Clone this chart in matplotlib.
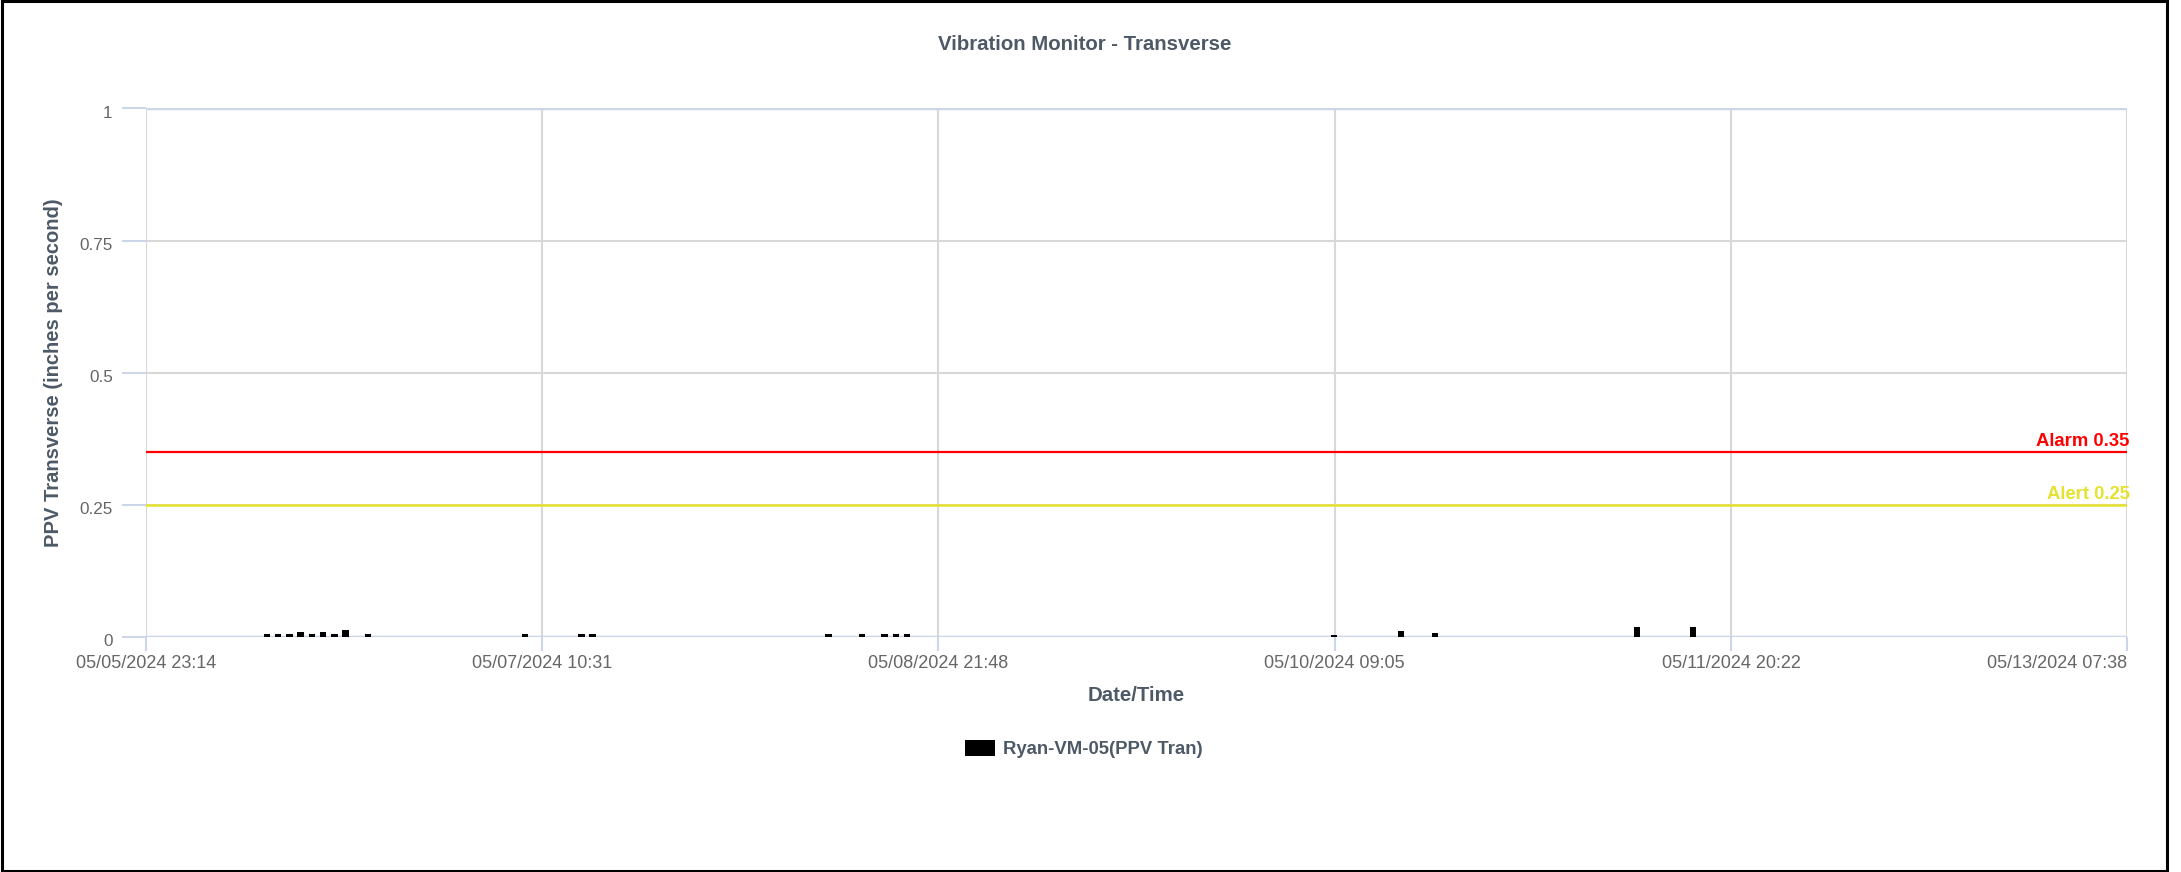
import numpy as np
import pandas as pd
import matplotlib
matplotlib.use("Agg")
import matplotlib.pyplot as plt
import matplotlib.dates as mdates
import matplotlib.transforms as mtransforms
from matplotlib.patches import Rectangle

plt.rcParams['font.family'] = ['Liberation Sans', 'DejaVu Sans']

# --- dados (PPV transversal, leituras horárias) ---
bar_times = [
    "2024-05-06 10:00", "2024-05-06 11:00", "2024-05-06 12:00", "2024-05-06 13:00",
    "2024-05-06 14:00", "2024-05-06 15:00", "2024-05-06 16:00", "2024-05-06 17:00",
    "2024-05-06 19:00",
    "2024-05-07 09:00", "2024-05-07 14:00", "2024-05-07 15:00",
    "2024-05-08 12:00", "2024-05-08 15:00", "2024-05-08 17:00", "2024-05-08 18:00",
    "2024-05-08 19:00",
    "2024-05-10 09:00", "2024-05-10 15:00", "2024-05-10 18:00",
    "2024-05-11 12:00", "2024-05-11 17:00",
]
bar_values = [
    0.005, 0.005, 0.005, 0.009, 0.005, 0.009, 0.005, 0.013,
    0.005,
    0.005, 0.005, 0.005,
    0.005, 0.005, 0.005, 0.005,
    0.005,
    0.004, 0.011, 0.008,
    0.018, 0.018,
]
tick_times = [
    "2024-05-05 23:14", "2024-05-07 10:31", "2024-05-08 21:48",
    "2024-05-10 09:05", "2024-05-11 20:22", "2024-05-13 07:38",
]
y_ticks = [0, 0.25, 0.5, 0.75, 1]
y_tick_labels = ["0", "0.25", "0.5", "0.75", "1"]
alarm_level = 0.35
alert_level = 0.25
series_name = "Ryan-VM-05(PPV Tran)"

W, H = 2181, 872
fig = plt.figure(figsize=(W / 100, H / 100), dpi=100)
ax = fig.add_axes([146 / W, 1 - 637 / H, (2127 - 146) / W, (637 - 108.5) / H])

t = pd.to_datetime(bar_times)
ticks = pd.to_datetime(tick_times)

text_dark = "#4d5966"
tick_grey = "#666666"
grid_grey = "#d8d8d8"
axis_blue = "#ccd6eb"

bars = ax.bar(t, bar_values, width=35 / 1440, color="black", zorder=3,
              label=series_name)

ax.set_xlim(ticks[0], ticks[-1])
ax.set_ylim(0, 1)
ax.set_xticks(ticks)
ax.xaxis.set_major_formatter(mdates.DateFormatter("%m/%d/%Y %H:%M"))
ax.set_yticks(y_ticks)
ax.set_yticklabels(y_tick_labels)

for s in ax.spines.values():
    s.set_visible(False)
ax.grid(True, color=grid_grey, linewidth=1.5, zorder=0)
ax.axhline(0, color=axis_blue, linewidth=2.5, zorder=2)
ax.axhline(1, color=axis_blue, linewidth=2.5, zorder=2)

ax.tick_params(axis="x", colors=axis_blue, labelcolor=tick_grey, labelsize=13,
               length=10, width=1.5, pad=3)
ax.tick_params(axis="y", colors=axis_blue, labelcolor=tick_grey, labelsize=12.3,
               length=17, width=1.5, pad=7)
# último rótulo alinhado à direita (como no original)
ax.get_xticklabels()[-1].set_horizontalalignment("right")
# rótulos do eixo y um pouco abaixo da linha
shift = mtransforms.ScaledTranslation(0, -3 / 100, fig.dpi_scale_trans)
for lbl in ax.get_yticklabels():
    lbl.set_transform(lbl.get_transform() + shift)

# --- linhas de alarme / alerta ---
ax.axhline(alarm_level, color="#ff0000", linewidth=1.6, zorder=2)
ax.axhline(alert_level, color="#e5e22e", linewidth=1.8, zorder=2)
ax.annotate(f"Alarm {alarm_level}", xy=(1.0, alarm_level),
            xycoords=ax.get_yaxis_transform(), xytext=(2, 1.5),
            textcoords="offset points", ha="right", va="bottom",
            color="#ff0000", fontsize=13.3, fontweight="bold")
ax.annotate(f"Alert {alert_level}", xy=(1.0, alert_level),
            xycoords=ax.get_yaxis_transform(), xytext=(2, 1.5),
            textcoords="offset points", ha="right", va="bottom",
            color="#e5e22e", fontsize=13.3, fontweight="bold")

ax.set_xlabel("Date/Time", fontsize=14.7, fontweight="bold", color=text_dark,
              labelpad=10)
ax.set_ylabel("PPV Transverse (inches per second)", fontsize=14.5,
              fontweight="bold", color=text_dark, labelpad=12)

fig.text(1085 / W, 1 - 45 / H, "Vibration Monitor - Transverse", ha="center",
         va="center", fontsize=14.7, fontweight="bold", color=text_dark)

leg = fig.legend(handles=[bars], loc="center",
                 bbox_to_anchor=(1084 / W, 1 - 749 / H), frameon=False,
                 handlelength=1.6, handleheight=1.0, handletextpad=0.45,
                 prop={"weight": "bold", "size": 13.3})
for txt in leg.get_texts():
    txt.set_color(text_dark)

# moldura em volta do gráfico
fig.add_artist(Rectangle((1.5 / W, 1.5 / H), (2167 - 1.5) / W, (870.5 - 1.5) / H,
                         transform=fig.transFigure, fill=False,
                         edgecolor="black", linewidth=2.2))

fig.savefig("out.png", dpi=100)
